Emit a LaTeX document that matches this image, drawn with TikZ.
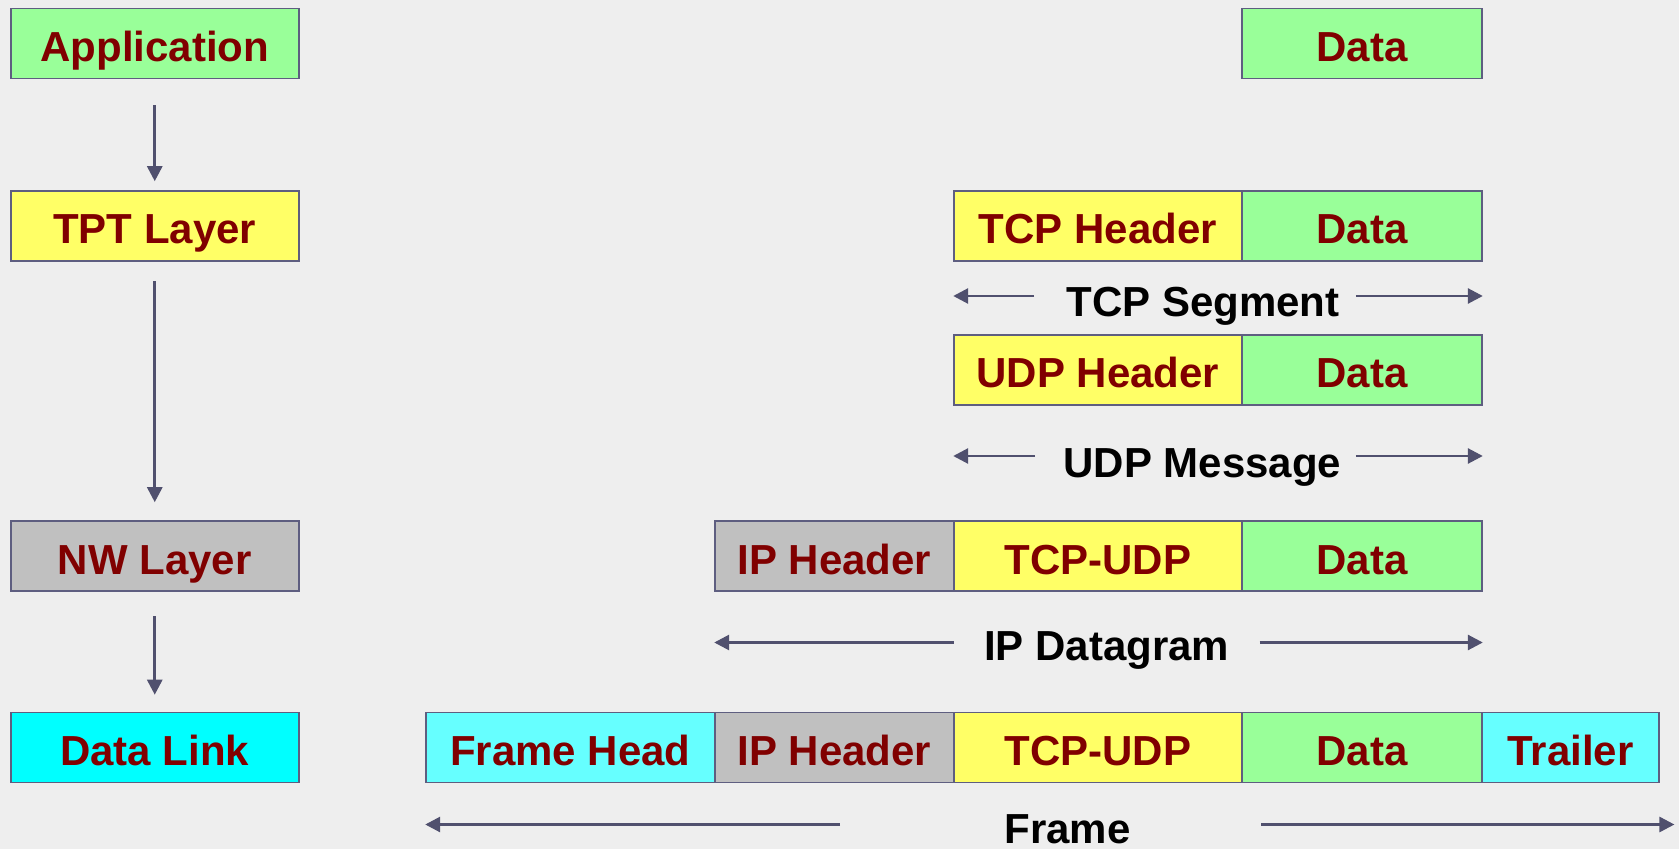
\documentclass[tikz,border=0pt]{standalone}
\usepackage{fontspec}
\setmainfont{Liberation Sans}
\usetikzlibrary{arrows.meta}

\definecolor{paper}{HTML}{EEEEEE}
\definecolor{edge}{HTML}{5E5E80}
\definecolor{arrowc}{HTML}{50506E}
\definecolor{label}{HTML}{800000}
\definecolor{appgreen}{HTML}{99FF99}
\definecolor{tptyellow}{HTML}{FFFF66}
\definecolor{nwgray}{HTML}{C0C0C0}
\definecolor{linkcyan}{HTML}{00FFFF}
\definecolor{framecyan}{HTML}{66FFFF}

\tikzset{
  cell/.style={draw=edge, line width=0.8pt, inner sep=0pt, minimum height=35pt,
    text height=21pt, text depth=3pt, text=label,
    font=\bfseries\fontsize{21}{21}\selectfont},
  layerbox/.style={cell, minimum width=144pt},
  hdrcell/.style={cell, minimum width=144pt},
  datacell/.style={cell, minimum width=120pt, fill=appgreen},
  ipcell/.style={cell, minimum width=119.5pt, fill=nwgray},
  fhcell/.style={cell, minimum width=144.5pt, fill=framecyan},
  trcell/.style={cell, minimum width=88.5pt, fill=framecyan},
  flow/.style={draw=arrowc, line width=1.4pt, -{Triangle[length=7.5pt,width=7.5pt]}},
  caption/.style={inner sep=0pt, anchor=base, text=black,
    font=\bfseries\fontsize{21}{21}\selectfont}
}

\begin{document}
\begin{tikzpicture}[x=0.5pt,y=-0.5pt]
  % page and paper background
  \useasboundingbox (0,0) rectangle (1679,849);
  \fill[paper] (0,0) rectangle (1679,849);

  % layer column
  \node[layerbox, fill=appgreen]  (app) at (154.75,43.4) {Application};
  \node[layerbox, fill=tptyellow] (tpt) at (154.75,226)  {TPT Layer};
  \node[layerbox, fill=nwgray]    (nw)  at (154.75,556)  {NW Layer};
  \node[layerbox, fill=linkcyan]  (dl)  at (154.75,747.5) {Data Link};

  \draw[flow, shorten <=13pt,   shorten >=4.5pt] (app) -- (tpt);
  \draw[flow, shorten <=9.8pt,  shorten >=9pt]   (tpt) -- (nw);
  \draw[flow, shorten <=12.3pt, shorten >=8.5pt] (nw)  -- (dl);

  % application data
  \node[datacell] (d0) at (1362,43.4) {Data};

  % TCP segment
  \node[hdrcell, fill=tptyellow] (tcph) at (1098,226) {TCP Header};
  \node[datacell]                (tcpd) at (1362,226) {Data};
  \coordinate (segy) at (0,296);
  \node[caption] (seg) at (1203,317) {TCP Segment};
  \draw[flow, shorten <=16pt] (seg.west |- segy) -- (tcph.west |- segy);
  \draw[flow, shorten <=8pt]  (seg.east |- segy) -- (tcpd.east |- segy);

  % UDP message
  \node[hdrcell, fill=tptyellow] (udph) at (1098,370) {UDP Header};
  \node[datacell]                (udpd) at (1362,370) {Data};
  \coordinate (msgy) at (0,456);
  \node[caption] (msg) at (1202.5,477) {UDP Message};
  \draw[flow, shorten <=14pt] (msg.west |- msgy) -- (udph.west |- msgy);
  \draw[flow, shorten <=7pt]  (msg.east |- msgy) -- (udpd.east |- msgy);

  % IP datagram
  \node[ipcell]                  (iph)  at (834.5,556) {IP Header};
  \node[hdrcell, fill=tptyellow] (ipt)  at (1098,556)  {TCP-UDP};
  \node[datacell]                (ipd)  at (1362,556)  {Data};
  \coordinate (dgy) at (0,642.5);
  \node[caption] (dg) at (1106.6,660) {IP Datagram};
  \draw[flow, shorten <=15pt] (dg.west |- dgy) -- (iph.west |- dgy);
  \draw[flow, shorten <=15pt] (dg.east |- dgy) -- (ipd.east |- dgy);

  % link-layer frame
  \node[fhcell]                  (fh)  at (570.5,747.5)  {Frame Head};
  \node[ipcell]                  (fip) at (834.5,747.5)  {IP Header};
  \node[hdrcell, fill=tptyellow] (ft)  at (1098,747.5)   {TCP-UDP};
  \node[datacell]                (fd)  at (1362,747.5)   {Data};
  \node[trcell]                  (ftr) at (1570.5,747.5) {Trailer};
  \coordinate (fry) at (0,824.5);
  \node[caption] (fr) at (1067.6,843) {Frame};
  \draw[flow, shorten <=82pt] (fr.west |- fry) -- (fh.west |- fry);
  \draw[flow, shorten <=65pt, shorten >=-7.3pt] (fr.east |- fry) -- (ftr.east |- fry);
\end{tikzpicture}
\end{document}
